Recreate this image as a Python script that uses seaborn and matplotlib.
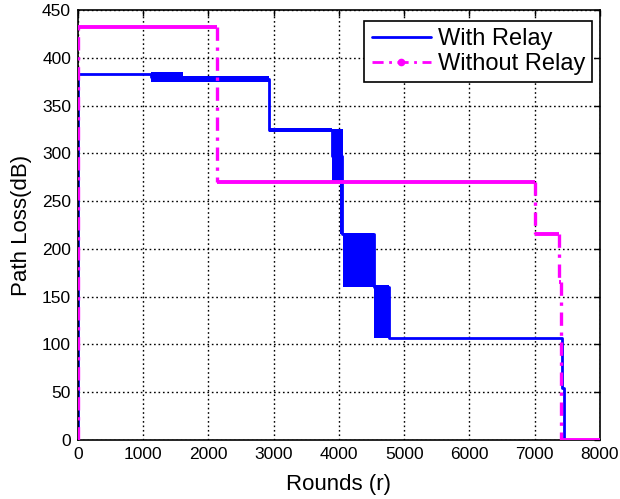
import numpy as np
import pandas as pd
import seaborn as sns
import matplotlib.pyplot as plt
from matplotlib.lines import Line2D

# With Relay: step trace (rounds, path loss)
relay_x = [0, 0, 1120, 1120, 1610, 1610, 2930, 2930, 3900, 3900, 4040, 4040,
           4540, 4540, 4770, 4770, 7425, 7425, 7455, 7455, 8000]
relay_y = [0, 383, 383, 380, 380, 378, 378, 324, 324, 297, 297, 216,
           216, 160, 160, 107, 107, 54, 54, 0, 0]

# With Relay: regions where the value flips quickly between two levels
band_start = [1120, 1610, 2930, 3900, 4020, 4060, 4540]
band_end = [1610, 2930, 3900, 4060, 4060, 4540, 4770]
band_low = [375, 375, 322, 270, 216, 160, 107]
band_high = [385, 381, 326, 325, 270, 217, 162]

# Without Relay: levels between change points
norelay_edges = [0, 2130, 7005, 7370, 7400, 8000]
norelay_levels = [432, 270, 216, 165, 0]

blue = '#0000ff'
magenta = '#ff00ff'

sns.set_style('white')
plt.rcParams['font.family'] = ['Liberation Sans', 'DejaVu Sans']
plt.rcParams['text.color'] = 'black'
plt.rcParams['axes.labelcolor'] = 'black'

fig = plt.figure(figsize=(6.2, 4.99), dpi=100)
ax = fig.add_axes([0.1258, 0.1182, 0.8419, 0.8618])

relay = pd.DataFrame({'Rounds': relay_x, 'Loss': relay_y})
sns.lineplot(data=relay, x='Rounds', y='Loss', estimator=None, sort=False,
             color=blue, lw=2, ax=ax)
for s, e, lo, hi in zip(band_start, band_end, band_low, band_high):
    ax.fill_between([s, e], lo, hi, color=blue, lw=0, zorder=3)

# without relay: solid-looking plateaus, dash-dot drops
ax.hlines(norelay_levels, norelay_edges[:-1], norelay_edges[1:],
          color=magenta, lw=2.8, zorder=4)
prev = [0] + norelay_levels[:-1]
ax.vlines(norelay_edges[:-1], prev, norelay_levels, color=magenta, lw=2.4,
          linestyles=(0, (4, 2, 1, 2)), zorder=4)

ax.set_xlim(0, 8000)
ax.set_ylim(0, 450)
ax.set_xticks(np.arange(0, 8001, 1000))
ax.set_yticks(np.arange(0, 451, 50))
ax.tick_params(direction='in', top=True, right=True, length=4, width=1,
               labelsize=12.5, colors='black', pad=5)
ax.grid(True, color='black', linestyle=(0, (1.2, 2)), lw=1)
for sp in ax.spines.values():
    sp.set_color('black')
    sp.set_linewidth(1.2)

ax.set_xlabel('Rounds (r)', fontsize=16, labelpad=9)
ax.set_ylabel('Path Loss(dB)', fontsize=16, labelpad=7)

handles = [Line2D([], [], color=blue, lw=2),
           Line2D([], [], color=magenta, lw=2, linestyle=(0, (4, 2, 1, 2)),
                  marker='.', markersize=9)]
leg = ax.legend(handles, ['With Relay', 'Without Relay'], loc='upper right',
                fontsize=17, frameon=True, fancybox=False, handlelength=2.5,
                borderaxespad=0, borderpad=0.3, labelspacing=0.15,
                handletextpad=0.3, bbox_to_anchor=(0.985, 0.975))
leg.get_frame().set_edgecolor('black')
leg.get_frame().set_linewidth(1.2)
leg.get_frame().set_alpha(1)

fig.savefig('out.png', dpi=100)
